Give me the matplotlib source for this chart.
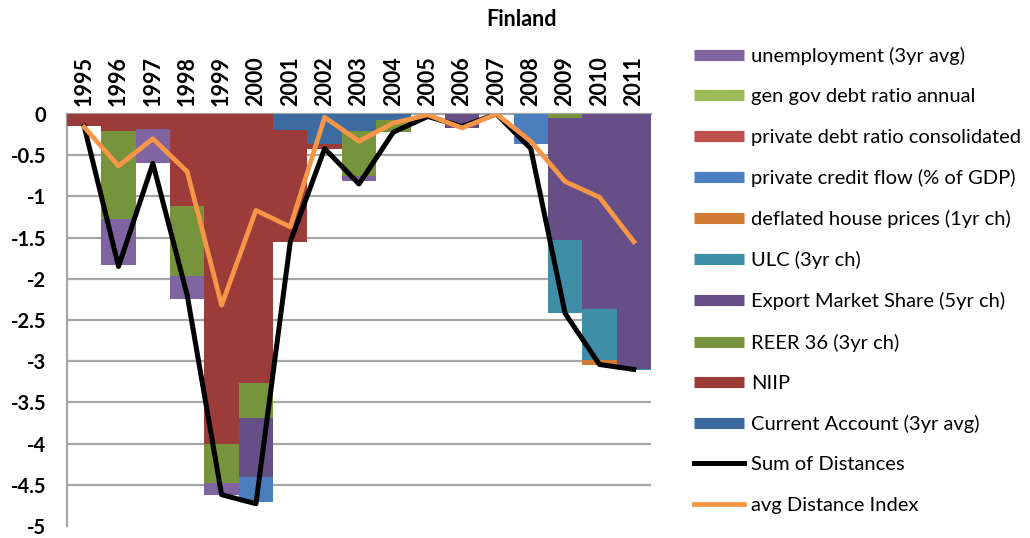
import matplotlib
matplotlib.use("Agg")
import matplotlib.pyplot as plt
from matplotlib.lines import Line2D
from matplotlib.ticker import FuncFormatter, MultipleLocator
import numpy as np

plt.rcParams['font.family'] = ['Lato', 'DejaVu Sans']
plt.rcParams['axes.unicode_minus'] = False

years = [str(y) for y in range(1995, 2012)]

# stacked components (stack order from zero downward)
current_account = [0, 0, 0, 0, 0, 0, -0.20, -0.37, -0.21, -0.07, 0, 0, 0, 0, 0, 0, 0]
niip            = [-0.15, -0.21, -0.18, -1.12, -4.01, -3.26, -1.35, -0.05, 0, 0, 0, 0, 0, 0, 0, 0, 0]
reer36          = [0, -1.06, 0, -0.84, -0.47, -0.43, 0, 0, -0.54, -0.15, 0, 0, 0, 0, -0.05, 0, 0]
export_share    = [0, 0, 0, 0, 0, -0.72, 0, 0, 0, 0, 0, -0.17, 0, 0, -1.48, -2.37, -3.09]
ulc             = [0, 0, 0, 0, 0, 0, 0, 0, 0, 0, 0, 0, 0, 0, -0.88, -0.61, -0.02]
house_prices    = [0, 0, 0, 0, 0, 0, 0, 0, 0, 0, 0, 0, 0, 0, 0, -0.07, 0]
credit_flow     = [0, 0, 0, 0, 0, -0.30, 0, 0, 0, 0, 0, 0, 0, -0.36, 0, 0, 0]
private_debt    = [0] * 17
gov_debt        = [0] * 17
unemployment    = [0, -0.56, -0.42, -0.29, -0.14, 0, 0, 0, -0.06, 0, 0, 0, 0, 0, 0, 0, 0]

sum_distances = [-0.15, -1.85, -0.60, -2.20, -4.62, -4.73, -1.55, -0.42, -0.85, -0.22,
                 -0.03, -0.15, 0.0, -0.42, -2.42, -3.04, -3.10]
avg_index = [-0.16, -0.63, -0.30, -0.70, -2.32, -1.17, -1.37, -0.04, -0.33, -0.11,
             -0.01, -0.17, 0.0, -0.33, -0.82, -1.01, -1.55]

series = [
    ("Current Account (3yr avg)", current_account, "#3D6AA0"),
    ("NIIP", niip, "#9B3C3B"),
    ("REER 36 (3yr ch)", reer36, "#77933C"),
    ("Export Market Share (5yr ch)", export_share, "#664E87"),
    ("ULC (3yr ch)", ulc, "#3D8EA6"),
    ("deflated house prices (1yr ch)", house_prices, "#D27B32"),
    ("private credit flow (% of GDP)", credit_flow, "#4A7EBE"),
    ("private debt ratio consolidated", private_debt, "#C0504D"),
    ("gen gov debt ratio annual", gov_debt, "#9BBB59"),
    ("unemployment (3yr avg)", unemployment, "#8064A2"),
]

fig = plt.figure(figsize=(10.30, 5.38), dpi=100)
ax = fig.add_axes([67/1030, 12/538, 584/1030, 412/538])

x = np.arange(len(years))
bottom = np.zeros(len(years))
for name, vals, col in series:
    v = np.array(vals, dtype=float)
    ax.bar(x, v, bottom=bottom, width=1.0, color=col, linewidth=0, zorder=2)
    bottom = bottom + v

ax.plot(x, sum_distances, color="black", lw=3.6, zorder=4)
ax.plot(x, avg_index, color="#F79646", lw=3.4, zorder=5)

ax.set_xlim(-0.5, len(years) - 0.5)
ax.set_ylim(-5, 0)
ax.yaxis.set_major_locator(MultipleLocator(0.5))
ax.yaxis.set_major_formatter(FuncFormatter(lambda v, p: "%g" % v))
for yv in np.arange(-4.5, 0, 0.5):
    ax.axhline(yv, color="#A6A6A6", lw=1.6, zorder=1)

ax.xaxis.tick_top()
ax.set_xticks(x)
ax.set_xticklabels(years, rotation=90, fontsize=15.5, fontweight='bold')
ax.tick_params(axis='x', length=0, pad=6)
ax.tick_params(axis='y', length=0, pad=15, labelsize=14.5)
for lab in ax.get_yticklabels():
    lab.set_fontweight('bold')

for s in ['right', 'bottom']:
    ax.spines[s].set_visible(False)
for s in ['top', 'left']:
    ax.spines[s].set_color("#A6A6A6")
    ax.spines[s].set_linewidth(1.6)
    ax.spines[s].set_zorder(1)

fig.text(521/1030, 1 - 20/538, "Finland", ha='center', va='center', fontsize=15.5, fontweight='bold')

handles = []
labels = []
for name, vals, col in series[::-1]:
    handles.append(Line2D([], [], color=col, lw=8, solid_capstyle='butt'))
    labels.append(name)
handles.append(Line2D([], [], color="black", lw=3.6))
labels.append("Sum of Distances")
handles.append(Line2D([], [], color="#F79646", lw=3.4))
labels.append("avg Distance Index")

fig.legend(handles, labels, loc='upper left', bbox_to_anchor=(694/1030, 1 - 47/538),
           frameon=False, fontsize=14.5, handlelength=2.48, handletextpad=0.35,
           labelspacing=1.15, borderpad=0, borderaxespad=0)

fig.savefig("out.png", dpi=100)
